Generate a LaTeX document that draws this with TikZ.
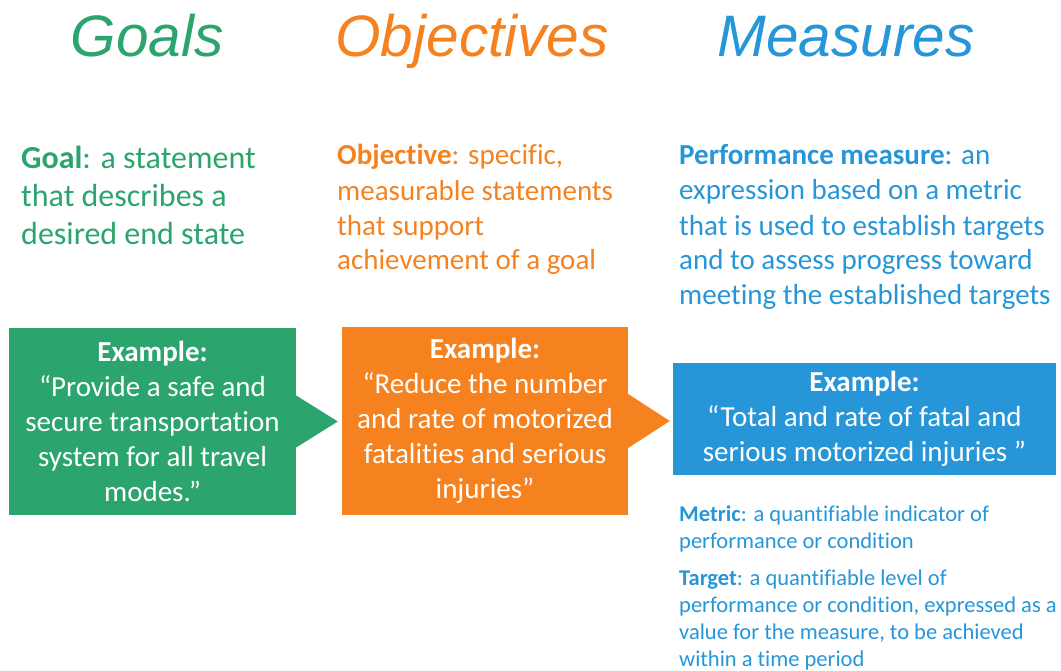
\documentclass[tikz,border=0pt]{standalone}
\usepackage{fontspec}
\setmainfont{Carlito}[Ligatures={TeX,NoCommon}]
\newfontfamily\headfont{Liberation Sans}
\usetikzlibrary{positioning}

\definecolor{goalgreen}{RGB}{44,164,110}
\definecolor{objorange}{RGB}{245,130,31}
\definecolor{measblue}{RGB}{38,150,216}

\tikzset{
  headline/.style={anchor=base, inner sep=0pt, text=#1,
    font=\headfont\itshape\fontsize{58.5}{60}\selectfont},
  defn/.style={anchor=base west, align=left, inner sep=0pt, text=#1},
  examplebox/.style={rectangle, fill=#1, text=white, align=center, inner sep=0pt,
    font=\fontsize{29}{35}\selectfont},
  notetext/.style={anchor=base west, align=left, inner sep=0pt, text=measblue,
    font=\fontsize{22.5}{27}\selectfont}
}

\begin{document}
\begin{tikzpicture}[x=1pt, y=-1pt]
	\useasboundingbox (0,0) rectangle (1061,671);

	% headings
	\node[headline=goalgreen]  (goalhead) at (147,57) {Goals};
	\node[headline=objorange]  (objhead)  at (472,57) {Objectives};
	\node[headline=measblue]   (meashead) at (846,57) {Measures};

	% definitions (placed at the baseline of their last line)
	\node[defn=goalgreen, font=\fontsize{32}{38.5}\selectfont] (goaldef) at (21,245)
		{\textbf{Goal}: a statement\\that describes a\\desired end state};
	\node[defn=objorange, font=\fontsize{29}{35}\selectfont] (objdef) at (337,270)
		{\textbf{Objective}: specific,\\measurable statements\\that support\\achievement of a goal};
	\node[defn=measblue, font=\fontsize{29}{35}\selectfont] (measdef) at (679,305)
		{\textbf{Performance measure}: an\\expression based on a metric\\that is used to establish targets\\and to assess progress toward\\meeting the established targets};

	% example boxes
	\node[examplebox=goalgreen, minimum width=287, minimum height=187] (goalbox) at (152.5,421.5)
		{\textbf{Example:}\\``Provide a safe and\\secure transportation\\system for all travel\\modes.''};
	\node[examplebox=objorange, minimum width=286, minimum height=188] (objbox) at (485,421)
		{\textbf{Example:}\\``Reduce the number\\and rate of motorized\\fatalities and serious\\injuries''};
	\node[examplebox=measblue, minimum width=383, minimum height=112] (measbox) at (864.5,419)
		{\textbf{Example:}\\``Total and rate of fatal and\\serious motorized injuries ''};

	% pointers between boxes
	\fill[goalgreen] ([yshift=26]goalbox.east) -- ([xshift=-4]objbox.west |- goalbox.east)
		-- ([yshift=-26]goalbox.east) -- cycle;
	\fill[objorange] ([yshift=27]objbox.east) -- ([xshift=-3]measbox.west |- objbox.east)
		-- ([yshift=-27]objbox.east) -- cycle;

	% notes under the measure
	\node[notetext] (metricnote) at (679,548)
		{\textbf{Metric}: a quantifiable indicator of\\performance or condition};
	\node[notetext] (targetnote) at (679,666)
		{\textbf{Target}: a quantifiable level of\\performance or condition, expressed as a\\value for the measure, to be achieved\\within a time period};
\end{tikzpicture}
\end{document}
